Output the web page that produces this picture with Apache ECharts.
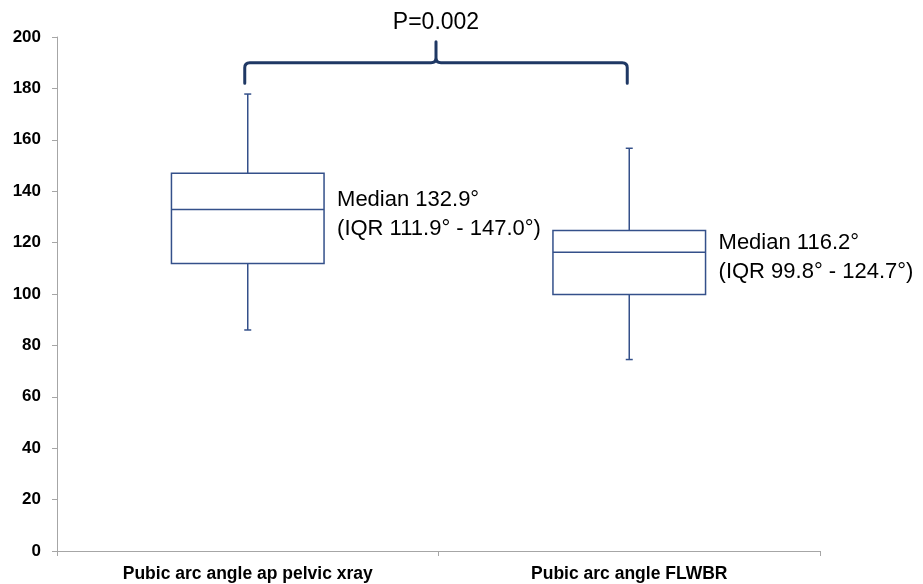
<!DOCTYPE html>
<html>
<head>
<meta charset="utf-8">
<script src="https://cdn.jsdelivr.net/npm/echarts@6/dist/echarts.min.js"></script>
<style>
  html, body { margin: 0; padding: 0; background: #fff; }
  #chart { width: 923px; height: 584px; }
</style>
</head>
<body>
<div id="chart"></div>
<script>
// Box plot data: pubic arc angle, two measurement methods
const categories = ['Pubic arc angle ap pelvic xray', 'Pubic arc angle FLWBR'];
const whiskerLow = [86.0, 74.5];
const q1 = [111.9, 99.8];
const median = [132.9, 116.2];
const q3 = [147.0, 124.7];
const whiskerHigh = [177.8, 156.7];
const medianLabels = ['Median 132.9°', 'Median 116.2°'];
const iqrLabels = ['(IQR 111.9° - 147.0°)', '(IQR 99.8° - 124.7°)'];
const yTicks = [0, 20, 40, 60, 80, 100, 120, 140, 160, 180, 200];
const pValueText = 'P=0.002';

const BOX_COLOR = '#34508a';
const BRACE_COLOR = '#1f3864';
const FONT = '"Liberation Sans", Arial, sans-serif';

const chart = echarts.init(document.getElementById('chart'), null, { renderer: 'canvas' });

function renderBox(params, api) {
  const idx = api.value(0);
  const cx = api.coord([idx, 0])[0];
  const band = api.size([1, 0])[0];
  const w = band * 0.4;
  const left = cx - w / 2;
  const right = cx + w / 2;
  const yLow = api.coord([idx, api.value(1)])[1];
  const yQ1 = api.coord([idx, api.value(2)])[1];
  const yMed = api.coord([idx, api.value(3)])[1];
  const yQ3 = api.coord([idx, api.value(4)])[1];
  const yHigh = api.coord([idx, api.value(5)])[1];
  const cap = 3.5;
  const lineStyle = { stroke: BOX_COLOR, lineWidth: 1.5, fill: null };
  return {
    type: 'group',
    children: [
      { type: 'line', shape: { x1: cx, y1: yQ3, x2: cx, y2: yHigh }, style: lineStyle },
      { type: 'line', shape: { x1: cx - cap, y1: yHigh, x2: cx + cap, y2: yHigh }, style: lineStyle },
      { type: 'line', shape: { x1: cx, y1: yQ1, x2: cx, y2: yLow }, style: lineStyle },
      { type: 'line', shape: { x1: cx - cap, y1: yLow, x2: cx + cap, y2: yLow }, style: lineStyle },
      { type: 'rect', shape: { x: left, y: yQ3, width: w, height: yQ1 - yQ3 },
        style: { fill: '#fff', stroke: BOX_COLOR, lineWidth: 1.5 } },
      { type: 'line', shape: { x1: left, y1: yMed, x2: right, y2: yMed }, style: lineStyle },
      { type: 'text',
        style: {
          x: right + 13, y: yMed + 5,
          text: medianLabels[idx] + '\n' + iqrLabels[idx],
          font: '22px ' + FONT,
          lineHeight: 29,
          fill: '#000',
          align: 'left',
          verticalAlign: 'middle'
        } }
    ]
  };
}

function renderBrace(params, api) {
  const xL = api.coord([0, 0])[0] - 3;
  const xR = api.coord([1, 0])[0] - 2;
  const xM = (xL + xR) / 2;
  const yB = api.coord([0, 182])[1];
  const yH = api.coord([0, 190])[1];
  const yT = api.coord([0, 198.2])[1];
  const r = 5;
  const path =
    'M' + xL + ',' + yB +
    ' L' + xL + ',' + (yH + r) +
    ' Q' + xL + ',' + yH + ' ' + (xL + r) + ',' + yH +
    ' L' + (xM - r) + ',' + yH +
    ' Q' + xM + ',' + yH + ' ' + xM + ',' + (yH - r) +
    ' L' + xM + ',' + yT +
    ' M' + xM + ',' + (yH - r) +
    ' Q' + xM + ',' + yH + ' ' + (xM + r) + ',' + yH +
    ' L' + (xR - r) + ',' + yH +
    ' Q' + xR + ',' + yH + ' ' + xR + ',' + (yH + r) +
    ' L' + xR + ',' + yB;
  return {
    type: 'group',
    children: [
      { type: 'path', shape: { pathData: path },
        style: { stroke: BRACE_COLOR, lineWidth: 3, fill: null, lineCap: 'round', lineJoin: 'round' } },
      { type: 'text',
        style: {
          x: xM, y: yT - 19,
          text: pValueText,
          font: '23px ' + FONT,
          fill: '#000',
          align: 'center',
          verticalAlign: 'middle'
        } }
    ]
  };
}

const boxData = categories.map((c, i) => [i, whiskerLow[i], q1[i], median[i], q3[i], whiskerHigh[i]]);

chart.setOption({
  animation: false,
  backgroundColor: '#fff',
  grid: { left: 57, right: 103, top: 37, bottom: 33, containLabel: false },
  xAxis: {
    type: 'category',
    data: categories,
    boundaryGap: true,
    axisLine: { lineStyle: { color: '#a6a6a6', width: 1 } },
    axisTick: { show: true, length: 5, lineStyle: { color: '#a6a6a6' } },
    axisLabel: { interval: 0, margin: 14, color: '#000', fontWeight: 'bold', fontSize: 17.5, fontFamily: FONT },
    splitLine: { show: false }
  },
  yAxis: {
    type: 'value',
    min: yTicks[0],
    max: yTicks[yTicks.length - 1],
    interval: yTicks[1] - yTicks[0],
    axisLine: { show: true, lineStyle: { color: '#a6a6a6', width: 1 } },
    axisTick: { show: true, length: 5, lineStyle: { color: '#a6a6a6' } },
    axisLabel: { margin: 16, color: '#000', fontWeight: 'bold', fontSize: 17, fontFamily: FONT },
    splitLine: { show: false }
  },
  series: [
    {
      type: 'custom',
      renderItem: renderBox,
      data: boxData,
      encode: { x: 0, y: [1, 2, 3, 4, 5] },
      clip: false,
      z: 2
    },
    {
      type: 'custom',
      renderItem: renderBrace,
      data: [[0, 190]],
      encode: { x: 0, y: 1 },
      clip: false,
      z: 3
    }
  ]
});
</script>
</body>
</html>
